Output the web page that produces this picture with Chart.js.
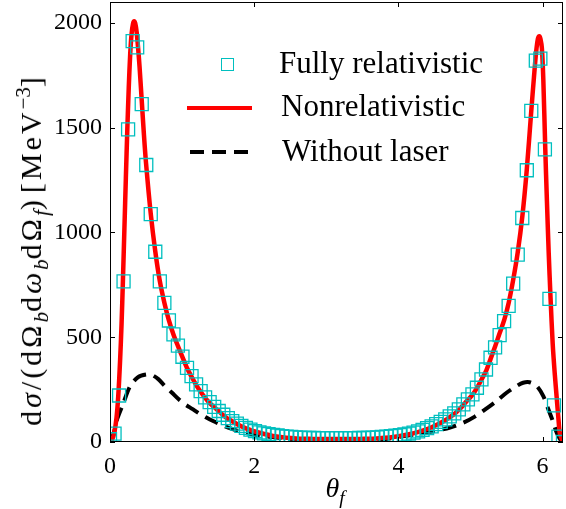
<!DOCTYPE html>
<html>
<head>
<meta charset="utf-8">
<script src="https://cdn.jsdelivr.net/npm/chart.js@4.4.1/dist/chart.umd.min.js"></script>
<style>
  body { margin: 0; background: #fff; }
  #wrap { position: relative; width: 566px; height: 509px; font-family: 'Liberation Serif', 'Times New Roman', serif; }
  #chart { position: absolute; left: 0; top: 0; }
  .ytitle { position: absolute; left: 31px; top: 248px; transform: translate(-50%, -50%) rotate(-90deg); white-space: nowrap; font-size: 30px; letter-spacing: 3px; color: #000; }
  .ytitle .gap { margin: 0 4px; }
  .xtitle { position: absolute; left: 335px; top: 488px; transform: translate(-50%, -50%); font-size: 28px; color: #000; white-space: nowrap; }
  sub, sup { font-size: 70%; line-height: 0; letter-spacing: 0; }
  .leg { position: absolute; font-size: 31px; color: #000; white-space: nowrap; line-height: 1; }
  .sq { position: absolute; width: 11px; height: 11px; border: 1.3px solid #00bfbf; }
  .ln { position: absolute; height: 4px; background: #ff0000; }
  .dash { position: absolute; height: 4px; background: repeating-linear-gradient(90deg, #000 0 14px, transparent 14px 22px); }
</style>
</head>
<body>
<div id="wrap">
  <canvas id="chart" width="566" height="509"></canvas>
  <div class="ytitle">d<i>σ</i>/(dΩ<sub><i>b</i></sub>d<i>ω</i><sub><i>b</i></sub>dΩ<sub><i>f</i></sub>)<span class="gap">[MeV<sup>−3</sup>]</span></div>
  <div class="xtitle"><i>θ</i><sub><i>f</i></sub></div>

  <div class="sq" style="left:221px; top:58px;"></div>
  <div class="leg" style="left:279px; top:47px;">Fully relativistic</div>
  <div class="ln" style="left:187px; top:106px; width:65px;"></div>
  <div class="leg" style="left:281px; top:90px;">Nonrelativistic</div>
  <div class="dash" style="left:190px; top:150px; width:62px;"></div>
  <div class="leg" style="left:282px; top:135px;">Without laser</div>
</div>
<script>
// fully relativistic: sampled on 101 angles
const thetaRel = [
  0, 0.063, 0.126, 0.188, 0.251, 0.314, 0.377, 0.440, 0.503, 0.565,
  0.628, 0.691, 0.754, 0.817, 0.880, 0.942, 1.005, 1.068, 1.131, 1.194,
  1.257, 1.319, 1.382, 1.445, 1.508, 1.571, 1.634, 1.696, 1.759, 1.822,
  1.885, 1.948, 2.011, 2.073, 2.136, 2.199, 2.262, 2.325, 2.388, 2.450,
  2.513, 2.576, 2.639, 2.702, 2.765, 2.827, 2.890, 2.953, 3.016, 3.079,
  3.142, 3.204, 3.267, 3.330, 3.393, 3.456, 3.519, 3.581, 3.644, 3.707,
  3.770, 3.833, 3.896, 3.958, 4.021, 4.084, 4.147, 4.210, 4.273, 4.335,
  4.398, 4.461, 4.524, 4.587, 4.650, 4.712, 4.775, 4.838, 4.901, 4.964,
  5.027, 5.089, 5.152, 5.215, 5.278, 5.341, 5.404, 5.466, 5.529, 5.592,
  5.655, 5.718, 5.781, 5.843, 5.906, 5.969, 6.032, 6.095, 6.158, 6.220,
  6.283
];
const relValues = [
  13, 40, 222, 767, 1492, 1913, 1883, 1613, 1322, 1088,
  908, 767, 664, 580, 514, 460, 407, 354, 314, 275,
  243, 213, 190, 168, 148, 130, 114, 100, 88, 77,
  67, 59, 52, 46, 41, 38, 34, 31, 28, 26,
  24, 22, 21, 20, 19, 19, 18, 18, 18, 18,
  18, 18, 18, 18, 18, 19, 19, 20, 21, 22,
  24, 26, 28, 30, 33, 36, 40, 45, 51, 58,
  66, 75, 85, 96, 108, 122, 137, 156, 180, 203,
  227, 259, 299, 346, 402, 452, 510, 577, 650, 756,
  894, 1069, 1297, 1580, 1820, 1830, 1397, 683, 175, 26,
  0
];

// nonrelativistic curve
const thetaNonrel = [
  0, 0.03, 0.06, 0.09, 0.115, 0.14, 0.16, 0.18, 0.20, 0.22,
  0.24, 0.26, 0.28, 0.30, 0.32, 0.335, 0.35, 0.37, 0.39, 0.41,
  0.44, 0.47, 0.50, 0.565, 0.628, 0.69, 0.754, 0.817, 0.88, 0.942,
  1.005, 1.068, 1.131, 1.194, 1.257, 1.32, 1.38, 1.45, 1.51, 1.57,
  1.63, 1.70, 1.76, 1.82, 1.885, 1.95, 2.01, 2.14, 2.26, 2.39,
  2.51, 2.64, 2.77, 2.89, 3.02, 3.14, 3.27, 3.39, 3.52, 3.64,
  3.77, 3.90, 4.02, 4.15, 4.27, 4.40, 4.52, 4.65, 4.71, 4.78,
  4.84, 4.90, 4.96, 5.03, 5.09, 5.15, 5.22, 5.28, 5.34, 5.40,
  5.47, 5.53, 5.59, 5.655, 5.72, 5.78, 5.843, 5.88, 5.91, 5.935,
  5.955, 5.97, 5.99, 6.01, 6.037, 6.06, 6.085, 6.11, 6.14, 6.17,
  6.195, 6.22, 6.24, 6.283
];
const nonrelValues = [
  0, 12, 45, 115, 222, 390, 560, 780, 1020, 1260,
  1490, 1690, 1850, 1950, 1998, 2008, 1998, 1955, 1880, 1790,
  1630, 1470, 1330, 1090, 910, 770, 665, 580, 513, 458,
  405, 353, 312, 273, 240, 211, 187, 165, 146, 128,
  112, 98, 86, 75, 65, 57, 50, 38, 29, 23,
  19, 16, 15, 14, 14, 14, 14, 14, 15, 16,
  19, 23, 29, 37, 47, 62, 80, 104, 118, 135,
  154, 176, 200, 226, 258, 296, 342, 398, 455, 515,
  585, 665, 770, 905, 1080, 1297, 1580, 1740, 1860, 1925,
  1937, 1925, 1880, 1730, 1400, 1150, 900, 690, 470, 320,
  215, 110, 40, 0
];

// without laser
const thetaNoLaser = [
  0, 0.05, 0.10, 0.185, 0.277, 0.39, 0.50, 0.58, 0.67, 0.76,
  0.86, 0.95, 1.04, 1.14, 1.23, 1.33, 1.43, 1.53, 1.64, 1.76,
  1.95, 2.15, 2.40, 2.70, 3.00, 3.30, 3.60, 3.85, 4.09, 4.30,
  4.50, 4.716, 4.90, 5.06, 5.20, 5.36, 5.50, 5.64, 5.73, 5.82,
  5.92, 6.01, 6.08, 6.15, 6.195, 6.24, 6.283
];
const noLaserValues = [
  0, 40, 110, 185, 265, 310, 322, 320, 300, 268,
  235, 205, 180, 158, 138, 118, 100, 84, 69, 54,
  38, 28, 18, 11, 8, 8, 10, 16, 29, 40,
  52, 69, 92, 121, 155, 195, 235, 267, 283, 285,
  267, 219, 156, 92, 45, 15, 0
];

const xTicks = [0, 2, 4, 6];
const yTicks = [0, 500, 1000, 1500, 2000];

const toPoints = (xs, ys) => xs.map((x, i) => ({ x, y: ys[i] }));

const FONT = { family: "'Liberation Serif', 'Times New Roman', serif", size: 24 };

// box around the plot + inward tick marks
const boxPlugin = {
  id: 'box',
  afterDraw(chart) {
    const { ctx, chartArea: a, scales } = chart;
    ctx.save();
    ctx.strokeStyle = '#000';
    ctx.lineWidth = 1;
    ctx.strokeRect(a.left + 0.5, a.top + 0.5, a.right - a.left - 1, a.bottom - a.top - 1);
    ctx.beginPath();
    xTicks.forEach(v => {
      const px = Math.round(scales.x.getPixelForValue(v)) + 0.5;
      ctx.moveTo(px, a.bottom); ctx.lineTo(px, a.bottom - 5);
      ctx.moveTo(px, a.top); ctx.lineTo(px, a.top + 5);
    });
    yTicks.forEach(v => {
      const py = Math.round(scales.y.getPixelForValue(v)) + 0.5;
      ctx.moveTo(a.left, py); ctx.lineTo(a.left + 5, py);
      ctx.moveTo(a.right, py); ctx.lineTo(a.right - 5, py);
    });
    ctx.stroke();
    ctx.restore();
  }
};

new Chart(document.getElementById('chart'), {
  type: 'scatter',
  data: {
    datasets: [
      {
        label: 'Fully relativistic',
        data: toPoints(thetaRel, relValues),
        showLine: false,
        pointStyle: 'rect',
        pointRadius: 9.2,
        backgroundColor: 'rgba(0,0,0,0)',
        borderColor: '#00bfbf',
        pointBorderWidth: 1.3,
        order: 0
      },
      {
        label: 'Nonrelativistic',
        data: toPoints(thetaNonrel, nonrelValues),
        showLine: true,
        borderColor: '#ff0000',
        borderWidth: 4.5,
        pointRadius: 0,
        tension: 0.3,
        order: 1
      },
      {
        label: 'Without laser',
        data: toPoints(thetaNoLaser, noLaserValues),
        showLine: true,
        borderColor: '#000',
        borderWidth: 4,
        borderDash: [14, 8],
        pointRadius: 0,
        tension: 0.3,
        order: 2
      }
    ]
  },
  options: {
    responsive: false,
    animation: false,
    layout: { autoPadding: false, padding: { top: 2, right: 3, left: 0, bottom: 0 } },
    plugins: { legend: { display: false }, tooltip: { enabled: false } },
    scales: {
      x: {
        type: 'linear',
        min: 0,
        max: 6.283,
        afterBuildTicks: s => { s.ticks = xTicks.map(v => ({ value: v })); },
        afterFit: s => { s.height = 67; s.paddingLeft = 0; s.paddingRight = 0; },
        grid: { display: false, drawTicks: false },
        border: { display: false },
        ticks: { color: '#000', font: FONT, padding: 10, callback: v => String(v) }
      },
      y: {
        type: 'linear',
        min: 0,
        max: 2100,
        afterBuildTicks: s => { s.ticks = yTicks.map(v => ({ value: v })); },
        afterFit: s => { s.width = 110; s.paddingTop = 0; s.paddingBottom = 0; },
        grid: { display: false, drawTicks: false },
        border: { display: false },
        ticks: { color: '#000', font: FONT, padding: 8, callback: v => String(v) }
      }
    }
  },
  plugins: [boxPlugin]
});
</script>
</body>
</html>
